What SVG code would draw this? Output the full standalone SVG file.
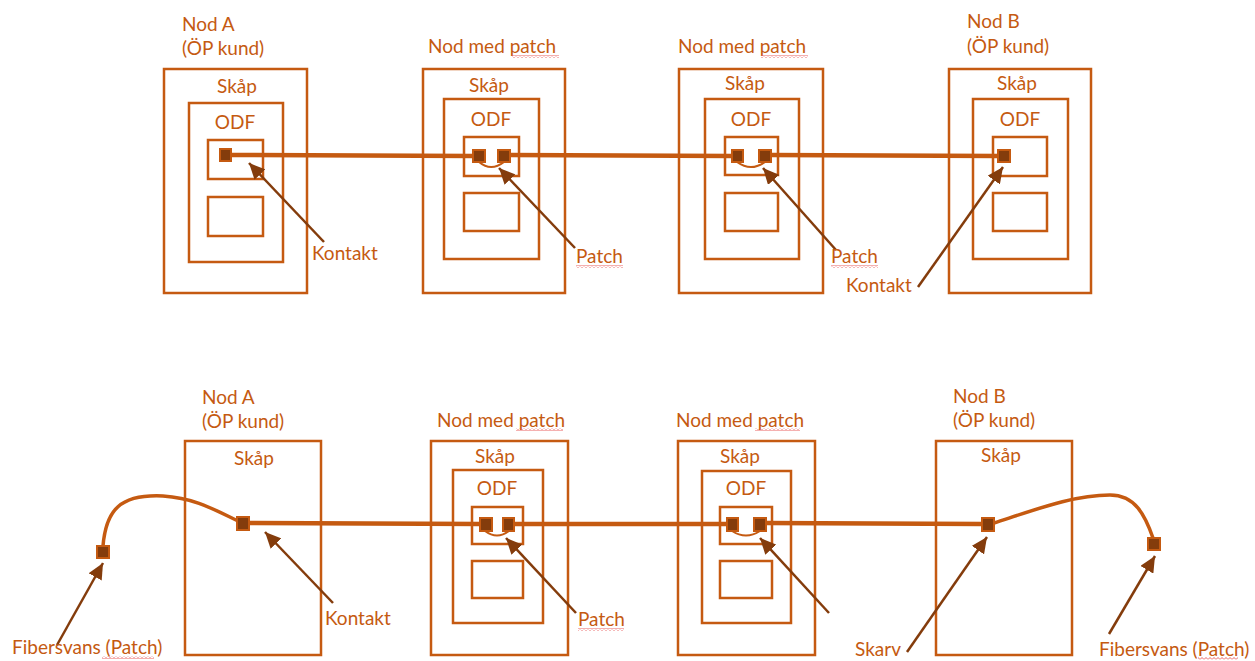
<svg xmlns="http://www.w3.org/2000/svg" width="1255" height="661" viewBox="0 0 1255 661">
<style>
.box{fill:none;stroke:#C55A11;stroke-width:2.5}
.t{font-family:Lato,"Liberation Sans",sans-serif;font-size:19px;fill:#C55A11}
.c{text-anchor:middle}
.sq{fill:#843C0C;stroke:#C55A11;stroke-width:2}
.fiber{fill:none;stroke:#C55A11;stroke-width:4.5;stroke-linecap:round}
.curve{fill:none;stroke:#C55A11;stroke-width:3.5}
.arc{fill:none;stroke:#C55A11;stroke-width:2}
.arr{fill:none;stroke:#843C0C;stroke-width:2.5;marker-end:url(#ah)}
.sg{fill:url(#squig)}
</style>
<defs>
<marker id="ah" markerUnits="userSpaceOnUse" markerWidth="17" markerHeight="15" refX="16" refY="7.5" orient="auto">
<path d="M0,0 L16,7.5 L0,15 Z" fill="#843C0C"/>
</marker>
<pattern id="squig" patternUnits="userSpaceOnUse" width="4" height="3">
<path d="M0,2.5 L2,0.5 L4,2.5" fill="none" stroke="#E85050" stroke-width="0.9"/>
</pattern>
</defs>
<rect width="1255" height="661" fill="#fff"/>

<!-- connectors -->
<g id="connectors">
<path class="fiber" d="M231,155 L473,156"/>
<path class="fiber" d="M510,155 L732,156"/>
<path class="fiber" d="M771,155 L998,156"/>
<path class="fiber" d="M249,523 L480,524"/>
<path class="fiber" d="M514,524 L727,524"/>
<path class="fiber" d="M766,523 L982,524"/>
<path class="curve" d="M103,546 C106,510 120,494 163,496 C195,498 215,510 238,521"/>
<path class="curve" d="M994,523 C1040,508 1075,495 1110,495 C1135,495 1145,515 1153,538"/>
<path class="arc" d="M479,162 Q491,172 504,162"/>
<path class="arc" d="M737,162 Q751,172 765,162"/>
<path class="arc" d="M485,531 Q497,540 509,531"/>
<path class="arc" d="M732,531 Q746,540 760,531"/>
</g>

<!-- top row -->
<g id="top-nodA">
<text class="t" x="182" y="31">Nod A</text>
<text class="t" x="182" y="55">(ÖP kund)</text>
<rect class="box" x="164" y="69" width="143" height="224"/>
<text class="t c" x="237" y="93">Skåp</text>
<rect class="box" x="189" y="103" width="94" height="159"/>
<text class="t c" x="235" y="129">ODF</text>
<rect class="box" x="208" y="140" width="55" height="39"/>
<rect class="box" x="208" y="197" width="55" height="39"/>
<rect class="sq" x="220" y="149" width="11" height="12"/>
</g>
<g id="top-patch1">
<text class="t" x="428" y="53">Nod med patch</text>
<rect class="box" x="423" y="69" width="142" height="224"/>
<text class="t c" x="489" y="92">Skåp</text>
<rect class="box" x="444" y="99" width="95" height="160"/>
<text class="t c" x="491" y="126">ODF</text>
<rect class="box" x="464" y="137" width="55" height="39"/>
<rect class="box" x="464" y="193" width="55" height="38"/>
<rect class="sq" x="473" y="150" width="12" height="12"/>
<rect class="sq" x="498" y="150" width="12" height="12"/>
</g>
<g id="top-patch2">
<text class="t" x="678" y="53">Nod med patch</text>
<rect class="box" x="679" y="69" width="144" height="224"/>
<text class="t c" x="745" y="90">Skåp</text>
<rect class="box" x="705" y="99" width="94" height="160"/>
<text class="t c" x="751" y="126">ODF</text>
<rect class="box" x="725" y="137" width="53" height="38"/>
<rect class="box" x="725" y="193" width="53" height="38"/>
<rect class="sq" x="732" y="150" width="11" height="12"/>
<rect class="sq" x="759" y="150" width="12" height="12"/>
</g>
<g id="top-nodB">
<text class="t" x="967" y="28">Nod B</text>
<text class="t" x="967" y="53">(ÖP kund)</text>
<rect class="box" x="949" y="69" width="142" height="224"/>
<text class="t c" x="1017" y="90">Skåp</text>
<rect class="box" x="973" y="99" width="95" height="160"/>
<text class="t c" x="1020" y="126">ODF</text>
<rect class="box" x="993" y="137" width="54" height="39"/>
<rect class="box" x="993" y="193" width="54" height="38"/>
<rect class="sq" x="998" y="150" width="12" height="12"/>
</g>

<!-- bottom row -->
<g id="bot-nodA">
<text class="t" x="202" y="404">Nod A</text>
<text class="t" x="202" y="428">(ÖP kund)</text>
<rect class="box" x="185" y="441" width="136" height="214"/>
<text class="t c" x="254" y="465">Skåp</text>
<rect class="sq" x="237" y="517" width="12" height="13"/>
</g>
<g id="bot-patch1">
<text class="t" x="437" y="427">Nod med patch</text>
<rect class="box" x="431" y="441" width="137" height="214"/>
<text class="t c" x="495" y="463">Skåp</text>
<rect class="box" x="453" y="470" width="90" height="153"/>
<text class="t c" x="497" y="495">ODF</text>
<rect class="box" x="472" y="507" width="51" height="37"/>
<rect class="box" x="472" y="561" width="51" height="37"/>
<rect class="sq" x="480" y="518" width="12" height="13"/>
<rect class="sq" x="503" y="518" width="11" height="13"/>
</g>
<g id="bot-patch2">
<text class="t" x="676" y="427">Nod med patch</text>
<rect class="box" x="678" y="441" width="137" height="214"/>
<text class="t c" x="740" y="463">Skåp</text>
<rect class="box" x="702" y="471" width="89" height="152"/>
<text class="t c" x="746" y="495">ODF</text>
<rect class="box" x="720" y="507" width="52" height="37"/>
<rect class="box" x="720" y="561" width="52" height="37"/>
<rect class="sq" x="727" y="518" width="11" height="13"/>
<rect class="sq" x="754" y="518" width="12" height="13"/>
</g>
<g id="bot-nodB">
<text class="t" x="953" y="403">Nod B</text>
<text class="t" x="953" y="427">(ÖP kund)</text>
<rect class="box" x="936" y="441" width="136" height="214"/>
<text class="t c" x="1001" y="462">Skåp</text>
<rect class="sq" x="982" y="518" width="12" height="13"/>
</g>
<g id="fiber-tails">
<rect class="sq" x="97" y="546" width="12" height="12"/>
<rect class="sq" x="1148" y="538" width="12" height="12"/>
</g>

<!-- callouts -->
<g id="callouts">
<path class="arr" d="M324,242 L249,163"/>
<path class="arr" d="M575,248 L499,168"/>
<path class="arr" d="M836,250 L763,168"/>
<path class="arr" d="M918,287 L1003,167"/>
<path class="arr" d="M333,603 L265,532"/>
<path class="arr" d="M57,645 L103,563"/>
<path class="arr" d="M576,613 L506,538"/>
<path class="arr" d="M829,613 L760,538"/>
<path class="arr" d="M907,652 L987,537"/>
<path class="arr" d="M1109,634 L1155,556"/>
<text class="t" x="312" y="260">Kontakt</text>
<text class="t" x="576" y="263">Patch</text>
<text class="t" x="831" y="263">Patch</text>
<text class="t" x="846" y="292">Kontakt</text>
<text class="t" x="325" y="625">Kontakt</text>
<text class="t" x="12" y="654">Fibersvans (Patch)</text>
<text class="t" x="578" y="626">Patch</text>
<text class="t" x="855" y="656">Skarv</text>
<text class="t" x="1099" y="656">Fibersvans (Patch)</text>
</g>

<!-- spellcheck underlines -->
<g id="squiggles">
<rect class="sg" x="512" y="55" width="47" height="3"/>
<rect class="sg" x="761" y="55" width="47" height="3"/>
<rect class="sg" x="576" y="265" width="47" height="3"/>
<rect class="sg" x="831" y="265" width="47" height="3"/>
<rect class="sg" x="516" y="428" width="47" height="3"/>
<rect class="sg" x="755" y="428" width="45" height="3"/>
<rect class="sg" x="578" y="628" width="46" height="3"/>
<rect class="sg" x="102" y="656" width="52" height="3"/>
<rect class="sg" x="1198" y="657" width="40" height="3"/>
</g>
</svg>
